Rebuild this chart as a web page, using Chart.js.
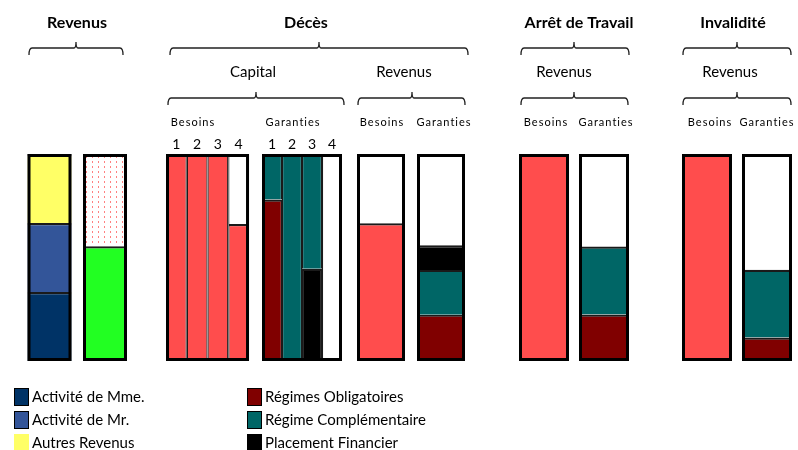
<!DOCTYPE html>
<html>
<head>
<meta charset="utf-8">
<script src="https://cdn.jsdelivr.net/npm/chart.js@4.4.1/dist/chart.umd.min.js"></script>
<style>
  body { margin: 0; background: #fff; }
  #graphique { display: block; }
</style>
</head>
<body>
<canvas id="graphique" width="798" height="450"></canvas>
<script>
// valeurs en % de la hauteur d'une colonne
const revenusMme = [33.3, 0];
const revenusMr = [33.4, 0];
const revenusAutres = [33.3, 0];
const revenusVert = [0, 55.4];

const capitalNumeros = ['1', '2', '3', '4'];
const capitalBesoins = [100, 100, 100, 66.2];
const capitalObligatoires = [78, 0, 0, 0];
const capitalPlacement = [0, 0, 44.6, 0];
const capitalComplementaire = [22, 100, 55.4, 0];

const decesBesoins = [66.5, 0];
const decesObligatoires = [0, 22.4];
const decesComplementaire = [0, 21.6];
const decesPlacement = [0, 11.9];

const arretBesoins = [100, 0];
const arretObligatoires = [0, 22.5];
const arretComplementaire = [0, 32.8];

const invalBesoins = [100, 0];
const invalObligatoires = [0, 11.3];
const invalComplementaire = [0, 32.8];

const libelles = {
    mme: 'Activité de Mme.',
    mr: 'Activité de Mr.',
    autres: 'Autres Revenus',
    oblig: 'Régimes Obligatoires',
    compl: 'Régime Complémentaire',
    placement: 'Placement Financier'
};

const couleurs = {
    mme: '#003366',
    mr: '#335599',
    autres: '#ffff66',
    vert: '#22ff22',
    besoins: '#ff4d4d',
    oblig: '#800000',
    compl: '#006666',
    placement: '#000000'
};

// motif pointillé rose du haut de la 2e colonne Revenus
function creerMotif() {
    const c = document.createElement('canvas');
    c.width = 6; c.height = 5;
    const cx = c.getContext('2d');
    cx.fillStyle = '#ffffff';
    cx.fillRect(0, 0, 6, 5);
    cx.fillStyle = '#ff8080';
    cx.fillRect(2, 1, 1, 2);
    return cx.createPattern(c, 'repeat');
}
const motif = creerMotif();

// mise en page des colonnes (centre de la 1re barre et pas, en pixels)
const groupes = [
    { axe: 'xRevenus', centre: 49.5, pas: 55.5, epaisseur: 44, cloisons: 0, cadres: [[0, 0], [1, 1]], fond: motif,
      series: [['mme', revenusMme], ['mr', revenusMr], ['autres', revenusAutres], ['vert', revenusVert]] },
    { axe: 'xCapB', centre: 176.4, pas: 20.75, epaisseur: 20.75, cloisons: 1.2, cadres: [[0, 3]], fond: '#ffffff',
      series: [['besoins', capitalBesoins]] },
    { axe: 'xCapG', centre: 272, pas: 20, epaisseur: 20, cloisons: 1.2, cadres: [[0, 3]], fond: '#ffffff',
      series: [['oblig', capitalObligatoires], ['placement', capitalPlacement], ['compl', capitalComplementaire]] },
    { axe: 'xDeces', centre: 381, pas: 60, epaisseur: 48, cloisons: 0, cadres: [[0, 0], [1, 1]], fond: '#ffffff',
      series: [['besoins', decesBesoins], ['oblig', decesObligatoires], ['compl', decesComplementaire], ['placement', decesPlacement]] },
    { axe: 'xArret', centre: 544, pas: 60, epaisseur: 50, cloisons: 0, cadres: [[0, 0], [1, 1]], fond: '#ffffff',
      series: [['besoins', arretBesoins], ['oblig', arretObligatoires], ['compl', arretComplementaire]] },
    { axe: 'xInval', centre: 707, pas: 60, epaisseur: 50, cloisons: 0, cadres: [[0, 0], [1, 1]], fond: '#ffffff',
      series: [['besoins', invalBesoins], ['oblig', invalObligatoires], ['compl', invalComplementaire]] }
];

const titres = [
    { texte: 'Revenus', x: 77, y: 23, police: 'bold 16px Lato' },
    { texte: 'Décès', x: 306, y: 23, police: 'bold 16px Lato' },
    { texte: 'Arrêt de Travail', x: 579, y: 23, police: 'bold 16px Lato' },
    { texte: 'Invalidité', x: 733, y: 23, police: 'bold 16px Lato' },
    { texte: 'Capital', x: 253, y: 72, police: '15px Lato' },
    { texte: 'Revenus', x: 404, y: 72, police: '15px Lato' },
    { texte: 'Revenus', x: 564, y: 72, police: '15px Lato' },
    { texte: 'Revenus', x: 730, y: 72, police: '15px Lato' },
    { texte: 'Besoins', x: 193, y: 122, police: '11px Lato', espace: '1px' },
    { texte: 'Garanties', x: 293, y: 122, police: '11px Lato', espace: '1px' },
    { texte: 'Besoins', x: 382, y: 122, police: '11px Lato', espace: '1px' },
    { texte: 'Garanties', x: 444, y: 122, police: '11px Lato', espace: '1px' },
    { texte: 'Besoins', x: 546, y: 122, police: '11px Lato', espace: '1px' },
    { texte: 'Garanties', x: 606, y: 122, police: '11px Lato', espace: '1px' },
    { texte: 'Besoins', x: 710, y: 122, police: '11px Lato', espace: '1px' },
    { texte: 'Garanties', x: 767, y: 122, police: '11px Lato', espace: '1px' }
];

const accolades = [
    { x1: 29, x2: 123, xm: 76, y: 48 },
    { x1: 170, x2: 468, xm: 319, y: 48 },
    { x1: 521, x2: 629, xm: 574, y: 48 },
    { x1: 683, x2: 791, xm: 737, y: 48 },
    { x1: 168, x2: 344, xm: 256, y: 98 },
    { x1: 358, x2: 465, xm: 412, y: 98 },
    { x1: 521, x2: 628, xm: 574, y: 98 },
    { x1: 683, x2: 791, xm: 737, y: 98 }
];

const legende = [
    { cle: 'mme', x: 14, y: 388 }, { cle: 'mr', x: 14, y: 411 }, { cle: 'autres', x: 14, y: 434 },
    { cle: 'oblig', x: 247, y: 388 }, { cle: 'compl', x: 247, y: 411 }, { cle: 'placement', x: 247, y: 434 }
];

const LARGEUR = 798;
let jeux = [];
let echelles = {
    x: { display: false },
    y: { display: false, stacked: true, min: 0, max: 100 }
};

groupes.forEach(function (g) {
    echelles[g.axe] = {
        type: 'linear', axis: 'x', position: 'bottom', display: false, stacked: true, offset: false,
        min: -g.centre / g.pas, max: (LARGEUR - g.centre) / g.pas,
        ticks: { stepSize: 1, includeBounds: false }
    };
    let n = g.series[0][1].length;
    let reste = [];
    for (let i = 0; i < n; i++) {
        let total = 0;
        g.series.forEach(function (s) { total += s[1][i]; });
        reste.push(Math.max(0, Math.round((100 - total) * 10) / 10));
    }
    g.premier = jeux.length;
    g.series.concat([['vide', reste]]).forEach(function (s) {
        jeux.push({
            label: libelles[s[0]] || s[0],
            data: s[1].map(function (v, i) { return { x: i, y: v }; }),
            xAxisID: g.axe,
            grouped: false,
            backgroundColor: s[0] === 'vide' ? g.fond : couleurs[s[0]],
            borderColor: '#1a1a1a',
            borderWidth: { top: 2.2, bottom: 0, left: g.cloisons, right: g.cloisons },
            borderSkipped: false,
            inflateAmount: 0,
            barThickness: g.epaisseur,
            maxBarThickness: g.epaisseur
        });
    });
});

const decor = {
    id: 'decor',
    afterDatasetsDraw(chart) {
        const ctx = chart.ctx;
        const y = chart.scales.y;
        const haut = y.getPixelForValue(100), bas = y.getPixelForValue(0);
        ctx.save();
        // cadres noirs autour des colonnes
        ctx.strokeStyle = '#000';
        ctx.lineWidth = 3;
        groupes.forEach(function (g) {
            const barres = chart.getDatasetMeta(g.premier).data;
            g.cadres.forEach(function (c) {
                const a = barres[c[0]], b = barres[c[1]];
                const gauche = a.x - a.width / 2, droite = b.x + b.width / 2;
                ctx.strokeRect(gauche + 1.5, haut + 1.5, droite - gauche - 3, bas - haut - 3);
            });
        });

        // titres
        ctx.fillStyle = '#000';
        ctx.textAlign = 'center';
        ctx.textBaseline = 'middle';
        titres.forEach(function (t) {
            ctx.font = t.police;
            ctx.letterSpacing = t.espace || '0px';
            ctx.fillText(t.texte, t.x, t.y);
        });
        ctx.letterSpacing = '0px';

        // numéros 1 à 4 au-dessus des colonnes Capital
        ctx.font = '14px Lato';
        [groupes[1], groupes[2]].forEach(function (g) {
            chart.getDatasetMeta(g.premier).data.forEach(function (b, i) {
                ctx.fillText(capitalNumeros[i], b.x, 144);
            });
        });

        // accolades
        ctx.strokeStyle = '#222';
        ctx.lineWidth = 1.3;
        accolades.forEach(function (a) {
            ctx.beginPath();
            ctx.moveTo(a.x1, a.y + 7);
            ctx.quadraticCurveTo(a.x1, a.y, a.x1 + 3, a.y);
            ctx.lineTo(a.xm - 2, a.y);
            ctx.quadraticCurveTo(a.xm, a.y, a.xm, a.y - 6);
            ctx.quadraticCurveTo(a.xm, a.y, a.xm + 2, a.y);
            ctx.lineTo(a.x2 - 3, a.y);
            ctx.quadraticCurveTo(a.x2, a.y, a.x2, a.y + 7);
            ctx.stroke();
        });

        // légende
        ctx.textAlign = 'left';
        ctx.font = '15px Lato';
        ctx.lineWidth = 1;
        ctx.strokeStyle = '#000';
        legende.forEach(function (l) {
            ctx.fillStyle = couleurs[l.cle];
            ctx.fillRect(l.x, l.y, 15, 18);
            if (l.cle !== 'autres') ctx.strokeRect(l.x + 0.5, l.y + 0.5, 14, 17);
            ctx.fillStyle = '#000';
            ctx.fillText(libelles[l.cle], l.x + 18, l.y + 9);
        });
        ctx.restore();
    }
};

const graphique = new Chart(document.getElementById('graphique'), {
    type: 'bar',
    data: { datasets: jeux },
    options: {
        responsive: false,
        animation: false,
        layout: { padding: { top: 154, bottom: 89, left: 0, right: 0 } },
        plugins: {
            legend: { display: false },
            tooltip: { enabled: false }
        },
        scales: echelles
    },
    plugins: [decor]
});
</script>
</body>
</html>
